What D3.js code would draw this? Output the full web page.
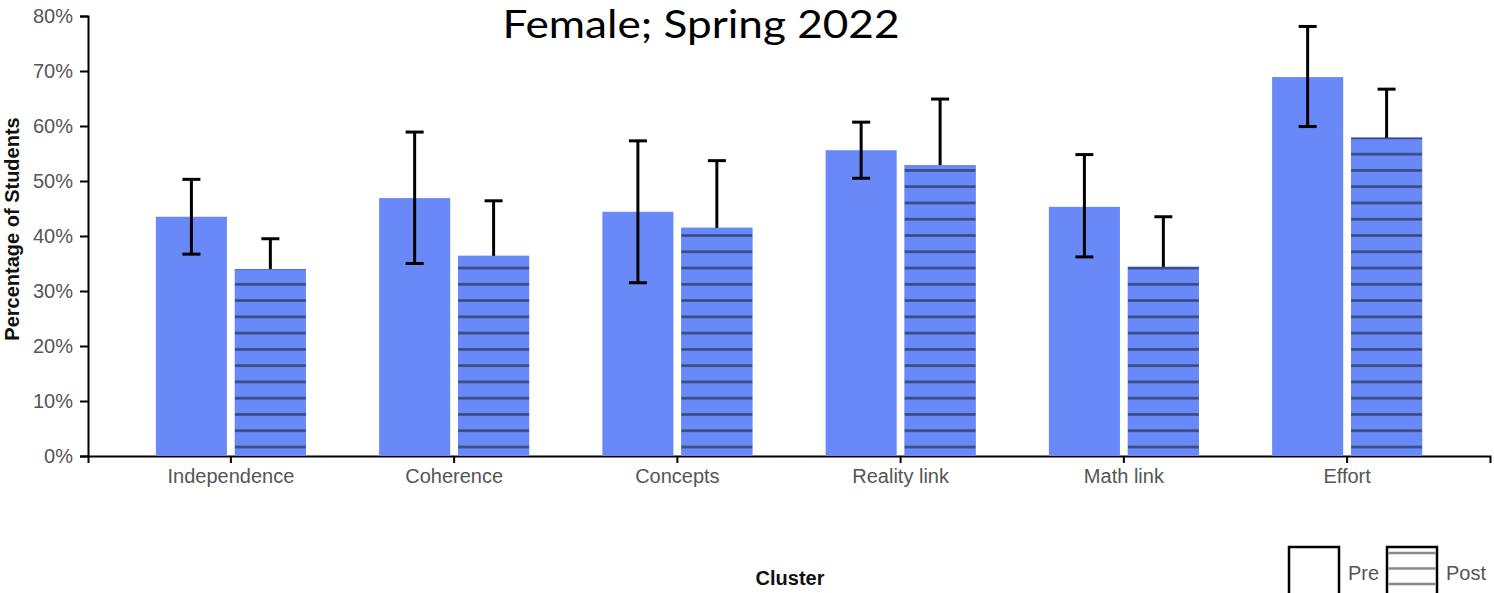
<!DOCTYPE html>
<html>
<head>
<meta charset="utf-8">
<script src="https://cdn.jsdelivr.net/npm/d3@7"></script>
<style>
  html, body { margin: 0; padding: 0; background: #fff; }
  svg { display: block; }
  .axis text { font-family: "Liberation Sans", Arial, sans-serif; font-size: 20px; fill: #555; }
  .axis path, .axis line { stroke: #000; stroke-width: 2px; }
</style>
</head>
<body>
<svg id="chart" width="1494" height="593"></svg>
<script>
// Survey clusters and the share of students (with error ranges) before and after the course
const clusters = ["Independence", "Coherence", "Concepts", "Reality link", "Math link", "Effort"];
const phases = ["Pre", "Post"];
const preValues  = [0.435, 0.469, 0.444, 0.556, 0.453, 0.689];
const preLow     = [0.367, 0.350, 0.315, 0.505, 0.362, 0.599];
const preHigh    = [0.503, 0.589, 0.573, 0.607, 0.548, 0.781];
const postValues = [0.340, 0.364, 0.415, 0.529, 0.344, 0.579];
const postLow    = [0.284, 0.262, 0.292, 0.413, 0.256, 0.493];
const postHigh   = [0.395, 0.464, 0.537, 0.649, 0.435, 0.667];
const yTicks = [0, 0.1, 0.2, 0.3, 0.4, 0.5, 0.6, 0.7, 0.8];
const titleText = "Female; Spring 2022";
const xTitle = "Cluster";
const yTitle = "Percentage of Students";

const barColor = "#6a89f8";
const hatchColor = "#374a80";

const svg = d3.select("#chart");

const x = d3.scaleBand().domain(clusters).range([88, 1490]).paddingInner(0.28).paddingOuter(0.28);
const xInner = d3.scaleBand().domain(phases).range([-75, 75]).paddingInner(0.1);
const y = d3.scaleLinear().domain([0, 0.8]).range([456, 16]);

// Horizontal hatching for the "Post" bars
const hatchStep = 16.27;
const defs = svg.append("defs");
const pat = defs.append("pattern")
  .attr("id", "hatch")
  .attr("patternUnits", "userSpaceOnUse")
  .attr("x", 0).attr("y", 447 - hatchStep / 2)
  .attr("width", 20).attr("height", hatchStep);
pat.append("rect").attr("width", 20).attr("height", hatchStep).attr("fill", barColor);
pat.append("rect").attr("x", 0).attr("y", hatchStep / 2 - 1.3)
  .attr("width", 20).attr("height", 2.6).attr("fill", hatchColor);

const rows = clusters.map((c, i) => ({
  cluster: c,
  bars: [
    { phase: "Pre", value: preValues[i], low: preLow[i], high: preHigh[i] },
    { phase: "Post", value: postValues[i], low: postLow[i], high: postHigh[i] }
  ]
}));

// Axes
svg.append("g").attr("class", "axis")
  .attr("transform", "translate(88,0)")
  .call(d3.axisLeft(y).tickValues(yTicks).tickFormat(d3.format(".0%")).tickSize(8).tickSizeOuter(8).tickPadding(7));

svg.append("g").attr("class", "axis")
  .attr("transform", "translate(0,456)")
  .call(d3.axisBottom(x).tickSize(7).tickSizeOuter(7).tickPadding(6));

// Bars
const groups = svg.append("g").selectAll("g.cluster")
  .data(rows).join("g")
  .attr("class", "cluster")
  .attr("transform", d => `translate(${x(d.cluster) + x.bandwidth() / 2},0)`);

groups.selectAll("rect.bar")
  .data(d => d.bars).join("rect")
  .attr("class", "bar")
  .attr("x", d => xInner(d.phase))
  .attr("width", xInner.bandwidth())
  .attr("y", d => y(d.value))
  .attr("height", d => y(0) - y(d.value))
  .attr("fill", barColor);

// Hatched post bars drawn in absolute coordinates so the pattern lines align across clusters
svg.append("g").selectAll("rect.post")
  .data(rows).join("rect")
  .attr("class", "post")
  .attr("x", d => x(d.cluster) + x.bandwidth() / 2 + xInner("Post"))
  .attr("width", xInner.bandwidth())
  .attr("y", d => y(d.bars[1].value))
  .attr("height", d => y(0) - y(d.bars[1].value))
  .attr("fill", "url(#hatch)");

// Error bars
const err = groups.selectAll("g.err")
  .data(d => d.bars).join("g")
  .attr("class", "err")
  .attr("transform", d => `translate(${xInner(d.phase) + xInner.bandwidth() / 2},0)`)
  .attr("stroke", "#000").attr("stroke-width", 3);
err.append("line").attr("x1", 0).attr("x2", 0).attr("y1", d => y(d.low)).attr("y2", d => y(d.high));
err.append("line").attr("x1", -9).attr("x2", 9).attr("y1", d => y(d.high)).attr("y2", d => y(d.high));
err.append("line").attr("x1", -9).attr("x2", 9).attr("y1", d => y(d.low)).attr("y2", d => y(d.low));

// Titles
svg.append("text")
  .attr("x", 701).attr("y", 38)
  .attr("text-anchor", "middle")
  .attr("font-family", "Lato, 'Open Sans', sans-serif")
  .attr("font-size", 38)
  .attr("textLength", 397).attr("lengthAdjust", "spacingAndGlyphs")
  .attr("fill", "#000")
  .text(titleText);

svg.append("text")
  .attr("x", 790).attr("y", 585)
  .attr("text-anchor", "middle")
  .attr("font-family", "'Liberation Sans', Arial, sans-serif")
  .attr("font-size", 20).attr("font-weight", "bold")
  .attr("fill", "#111")
  .text(xTitle);

svg.append("text")
  .attr("transform", "translate(19,229) rotate(-90)")
  .attr("text-anchor", "middle")
  .attr("font-family", "'Liberation Sans', Arial, sans-serif")
  .attr("font-size", 20).attr("font-weight", "bold")
  .attr("fill", "#111")
  .text(yTitle);

// Legend
const legend = svg.append("g").attr("class", "legend");
const legendItems = [
  { label: "Pre", x: 1289, hatched: false },
  { label: "Post", x: 1387, hatched: true }
];
legendItems.forEach(item => {
  const g = legend.append("g").attr("transform", `translate(${item.x},547)`);
  g.append("rect").attr("width", 50).attr("height", 50)
    .attr("fill", "#fff").attr("stroke", "#000").attr("stroke-width", 2.5);
  if (item.hatched) {
    [6, 21.5, 37].forEach(ly => {
      g.append("line").attr("x1", 1.5).attr("x2", 48.5).attr("y1", ly).attr("y2", ly)
        .attr("stroke", "#888").attr("stroke-width", 2.6);
    });
  }
  g.append("text").attr("x", 59).attr("y", 33)
    .attr("font-family", "'Liberation Sans', Arial, sans-serif")
    .attr("font-size", 20).attr("fill", "#555")
    .text(item.label);
});
</script>
</body>
</html>
